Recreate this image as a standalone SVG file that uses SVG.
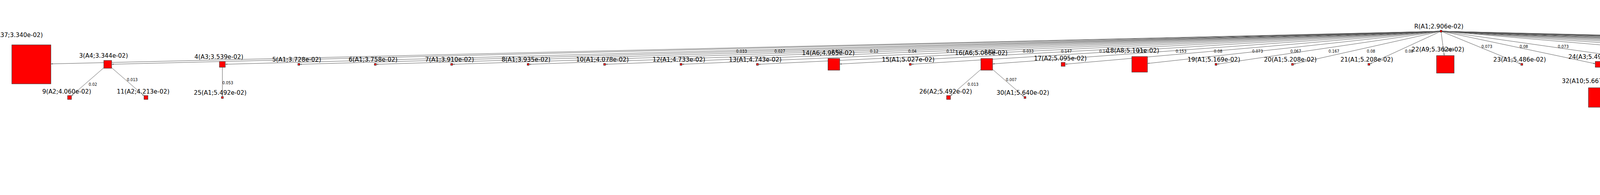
<svg xmlns="http://www.w3.org/2000/svg" width="7400" height="500" viewBox="0 0 7400 500">
<style>
.n rect{fill:#ff0000;stroke:#333;stroke-width:1}
.n text{font-family:"DejaVu Sans","Liberation Sans",sans-serif;font-size:15.3px;text-anchor:middle;fill:#000}
.e line{stroke:#555;stroke-width:1;marker-end:url(#a)}
.e text{font-family:"DejaVu Sans","Liberation Sans",sans-serif;font-size:9.7px;fill:#000}
</style>
<defs>
<marker id="a" markerUnits="userSpaceOnUse" markerWidth="6" markerHeight="4" refX="5" refY="1.75" orient="auto"><path d="M0,0 L5,1.75 L0,3.5 z" fill="#666"/></marker>
</defs>
<rect width="7400" height="500" fill="#fff"/>
<g id="edges" class="e">
<line x1="3689" y1="80" x2="130.2" y2="163.8"/>
<line x1="3689" y1="80" x2="285.8" y2="164.75"/>
<line x1="3689" y1="80" x2="576.8" y2="164.8"/>
<line x1="3689" y1="80" x2="767.5" y2="164.9"/>
<line x1="3689" y1="80" x2="963.2" y2="164.9"/>
<line x1="3689" y1="80" x2="1158.8" y2="164.9"/>
<line x1="3689" y1="80" x2="1354.5" y2="164.9"/>
<line x1="3689" y1="80" x2="1550.2" y2="164.9"/>
<line x1="3689" y1="80" x2="1745.9" y2="164.9"/>
<line x1="3689" y1="80" x2="1941.5" y2="164.9"/>
<line x1="3689" y1="80" x2="2149.7" y2="164.2"/>
<line x1="3689" y1="80" x2="2332.9" y2="164.8"/>
<line x1="3689" y1="80" x2="2541" y2="163.9"/>
<line x1="3689" y1="80" x2="2726.7" y2="164.6"/>
<line x1="3689" y1="80" x2="2937.4" y2="162.8"/>
<line x1="3689" y1="80" x2="3115.5" y2="164.6"/>
<line x1="3689" y1="80" x2="3311.2" y2="164.4"/>
<line x1="3689" y1="80" x2="3506.9" y2="163.85"/>
<line x1="3689" y1="80" x2="3697.2" y2="142.5"/>
<line x1="3689" y1="80" x2="3893.2" y2="164"/>
<line x1="3689" y1="80" x2="4083.9" y2="163.4"/>
<line x1="3689" y1="80" x2="4284.6" y2="164.6"/>
<line x1="3689" y1="80" x2="4673.4" y2="164.6"/>
<line x1="3689" y1="80" x2="4871.6" y2="164.8"/>
<line x1="3689" y1="80" x2="5019.7" y2="161.9"/>
<line x1="3689" y1="80" x2="5250.4" y2="164.2"/>
<line x1="3689" y1="80" x2="5458.6" y2="164.9"/>
<line x1="3689" y1="80" x2="5654.3" y2="164.9"/>
<line x1="3689" y1="80" x2="5849.9" y2="164.9"/>
<line x1="3689" y1="80" x2="6045.6" y2="164.9"/>
<line x1="3689" y1="80" x2="6331.6" y2="164.7"/>
<line x1="3689" y1="80" x2="6529.8" y2="164.8"/>
<line x1="3689" y1="80" x2="6727.9" y2="164.9"/>
<line x1="3689" y1="80" x2="6921.1" y2="164.8"/>
<line x1="3689" y1="80" x2="7121.8" y2="164.9"/>
<line x1="3689" y1="80" x2="7317.5" y2="164.95"/>
<line x1="265.8" y1="173.7" x2="183" y2="245.7"/>
<line x1="285.8" y1="173.7" x2="368.7" y2="245.7"/>
<line x1="569.3" y1="172.5" x2="569.3" y2="247.5"/>
<line x1="2511" y1="178" x2="2433.2" y2="245.7"/>
<line x1="2541" y1="178" x2="2621.4" y2="247.8"/>
<line x1="4284.6" y1="166.1" x2="4116.4" y2="239.1"/>
<line x1="4287.1" y1="167.5" x2="4287.1" y2="222.5"/>
<line x1="4289.6" y1="166.1" x2="4477.7" y2="247.8"/>
<line x1="4678.4" y1="170" x2="4678.4" y2="245"/>
<line x1="6048.1" y1="167.5" x2="6048.1" y2="247.5"/>
<line x1="6331.6" y1="173.7" x2="6246.3" y2="247.8"/>
<line x1="6351.6" y1="173.7" x2="6431.9" y2="243.5"/>
<line x1="4287.1" y1="277.5" x2="4287.1" y2="330"/>
<line x1="6439.4" y1="257.5" x2="6439.4" y2="332.5"/>
<line x1="6439.4" y1="337.5" x2="6439.4" y2="417.5"/>
<text x="1884.6" y="135">0.033</text>
<text x="1982.4" y="135">0.027</text>
<text x="2129.2" y="135">0.027</text>
<text x="2227" y="135">0.12</text>
<text x="2324.9" y="135">0.04</text>
<text x="2422.7" y="135">0.12</text>
<text x="2520.5" y="135">0.033</text>
<text x="2618.4" y="135">0.033</text>
<text x="2716.2" y="135">0.147</text>
<text x="2814" y="135">0.14</text>
<text x="2911.9" y="135">0.16</text>
<text x="3009.7" y="135">0.153</text>
<text x="3107.5" y="135">0.08</text>
<text x="3205.4" y="135">0.073</text>
<text x="3303.2" y="135">0.067</text>
<text x="3401" y="135">0.167</text>
<text x="3498.9" y="135">0.08</text>
<text x="3596.7" y="135">0.08</text>
<text x="3694.6" y="131">0.033</text>
<text x="3792.4" y="123">0.073</text>
<text x="3890.2" y="123">0.08</text>
<text x="3988.1" y="123">0.073</text>
<text x="4183.7" y="123">0.053</text>
<text x="4281.6" y="123">0.073</text>
<text x="4379.4" y="123">0.067</text>
<text x="4477.2" y="123">0.16</text>
<text x="4575.1" y="123">0.167</text>
<text x="4672.9" y="123">0.12</text>
<text x="4770.7" y="123">0.127</text>
<text x="4868.6" y="123">0.073</text>
<text x="5015.3" y="123">0.08</text>
<text x="5113.2" y="123">0.067</text>
<text x="5211" y="123">0.073</text>
<text x="5308.8" y="123">0.1</text>
<text x="5406.7" y="123">0.187</text>
<text x="5504.5" y="123">0.167</text>
<text x="226.9" y="220">0.02</text>
<text x="324.8" y="208">0.013</text>
<text x="569.3" y="216">0.053</text>
<text x="2477.1" y="220">0.013</text>
<text x="2575" y="208">0.007</text>
<text x="4189.3" y="220">0.007</text>
<text x="4287.1" y="216">0.007</text>
<text x="4384.9" y="208">0.02</text>
<text x="4678.4" y="216">0.007</text>
<text x="6048.1" y="216">0.007</text>
<text x="6292.7" y="220">0.013</text>
<text x="6390.5" y="208">0.013</text>
<text x="4287.1" y="301">0.02</text>
<text x="6439.4" y="301">0.013</text>
<text x="6439.4" y="386">0.013</text>
</g>
<g id="nR" class="n"><rect x="3686.5" y="77.5" width="5" height="5"/><text x="3683.5" y="73">R(A1;2.906e-02)</text></g>
<g id="n2" class="n"><rect x="30.2" y="115" width="100" height="100"/><text x="42.2" y="95">2(A37;3.340e-02)</text></g>
<g id="n3" class="n"><rect x="265.8" y="155" width="20" height="20"/><text x="265.2" y="148">3(A4;3.344e-02)</text></g>
<g id="n4" class="n"><rect x="561.8" y="157.5" width="15" height="15"/><text x="560.4" y="151.4">4(A3;3.539e-02)</text></g>
<g id="n5" class="n"><rect x="762.5" y="162.5" width="5" height="5"/><text x="759.5" y="158">5(A1;3.728e-02)</text></g>
<g id="n6" class="n"><rect x="958.2" y="162.5" width="5" height="5"/><text x="955.2" y="158">6(A1;3.758e-02)</text></g>
<g id="n7" class="n"><rect x="1153.8" y="162.5" width="5" height="5"/><text x="1150.8" y="158">7(A1;3.910e-02)</text></g>
<g id="n8" class="n"><rect x="1349.5" y="162.5" width="5" height="5"/><text x="1346.5" y="158">8(A1;3.935e-02)</text></g>
<g id="n10" class="n"><rect x="1545.2" y="162.5" width="5" height="5"/><text x="1542.2" y="158">10(A1;4.078e-02)</text></g>
<g id="n12" class="n"><rect x="1740.9" y="162.5" width="5" height="5"/><text x="1737.9" y="158">12(A1;4.733e-02)</text></g>
<g id="n13" class="n"><rect x="1936.5" y="162.5" width="5" height="5"/><text x="1933.5" y="158">13(A1;4.743e-02)</text></g>
<g id="n14" class="n"><rect x="2119.7" y="150" width="30" height="30"/><text x="2120.6" y="141.4">14(A6;4.965e-02)</text></g>
<g id="n15" class="n"><rect x="2327.9" y="162.5" width="5" height="5"/><text x="2324.9" y="158">15(A1;5.027e-02)</text></g>
<g id="n16" class="n"><rect x="2511" y="150" width="30" height="30"/><text x="2511.9" y="141.4">16(A6;5.066e-02)</text></g>
<g id="n17" class="n"><rect x="2716.7" y="160" width="10" height="10"/><text x="2714.5" y="154.7">17(A2;5.095e-02)</text></g>
<g id="n18" class="n"><rect x="2897.4" y="145" width="40" height="40"/><text x="2899.9" y="134.8">18(A8;5.101e-02)</text></g>
<g id="n19" class="n"><rect x="3110.5" y="162.5" width="5" height="5"/><text x="3107.5" y="158">19(A1;5.169e-02)</text></g>
<g id="n20" class="n"><rect x="3306.2" y="162.5" width="5" height="5"/><text x="3303.2" y="158">20(A1;5.208e-02)</text></g>
<g id="n21" class="n"><rect x="3501.9" y="162.5" width="5" height="5"/><text x="3498.9" y="158">21(A1;5.208e-02)</text></g>
<g id="n22" class="n"><rect x="3677.6" y="142.5" width="45" height="45"/><text x="3680.9" y="131.5">22(A9;5.362e-02)</text></g>
<g id="n23" class="n"><rect x="3893.2" y="162.5" width="5" height="5"/><text x="3890.2" y="158">23(A1;5.486e-02)</text></g>
<g id="n24" class="n"><rect x="4083.9" y="157.5" width="15" height="15"/><text x="4082.5" y="151.4">24(A3;5.492e-02)</text></g>
<g id="n27" class="n"><rect x="4284.6" y="162.5" width="5" height="5"/><text x="4281.6" y="158">27(A1;5.539e-02)</text></g>
<g id="n28" class="n"><rect x="4673.4" y="160" width="10" height="10"/><text x="4671.2" y="154.7">28(A2;5.613e-02)</text></g>
<g id="n29" class="n"><rect x="4871.6" y="162.5" width="5" height="5"/><text x="4868.6" y="158">29(A1;5.634e-02)</text></g>
<g id="n31" class="n"><rect x="5019.7" y="115" width="100" height="100"/><text x="5031.7" y="95">31(A29;5.657e-02)</text></g>
<g id="n33" class="n"><rect x="5250.4" y="150" width="30" height="30"/><text x="5251.3" y="141.4">33(A6;5.742e-02)</text></g>
<g id="n35" class="n"><rect x="5458.6" y="162.5" width="5" height="5"/><text x="5455.6" y="158">35(A1;6.031e-02)</text></g>
<g id="n36" class="n"><rect x="5654.3" y="162.5" width="5" height="5"/><text x="5651.3" y="158">36(A1;6.072e-02)</text></g>
<g id="n37" class="n"><rect x="5849.9" y="162.5" width="5" height="5"/><text x="5846.9" y="158">37(A1;6.078e-02)</text></g>
<g id="n38" class="n"><rect x="6045.6" y="162.5" width="5" height="5"/><text x="6042.6" y="158">38(A1;6.095e-02)</text></g>
<g id="n40" class="n"><rect x="6331.6" y="155" width="20" height="20"/><text x="6331" y="148">40(A4;6.140e-02)</text></g>
<g id="n41" class="n"><rect x="6529.8" y="157.5" width="15" height="15"/><text x="6528.4" y="151.4">41(A3;6.226e-02)</text></g>
<g id="n44" class="n"><rect x="6727.9" y="160" width="10" height="10"/><text x="6725.7" y="154.7">44(A2;6.412e-02)</text></g>
<g id="n48" class="n"><rect x="6921.1" y="157.5" width="15" height="15"/><text x="6919.7" y="151.4">48(A3;6.733e-02)</text></g>
<g id="n49" class="n"><rect x="7121.8" y="162.5" width="5" height="5"/><text x="7118.8" y="158">49(A1;6.903e-02)</text></g>
<g id="n51" class="n"><rect x="7317.5" y="162.5" width="5" height="5"/><text x="7314.5" y="158">51(A1;7.299e-02)</text></g>
<g id="n9" class="n"><rect x="173" y="245" width="10" height="10"/><text x="170.8" y="239.7">9(A2;4.060e-02)</text></g>
<g id="n11" class="n"><rect x="368.7" y="245" width="10" height="10"/><text x="366.5" y="239.7">11(A2;4.213e-02)</text></g>
<g id="n25" class="n"><rect x="566.8" y="247.5" width="5" height="5"/><text x="563.8" y="243">25(A1;5.492e-02)</text></g>
<g id="n26" class="n"><rect x="2423.2" y="245" width="10" height="10"/><text x="2421" y="239.7">26(A2;5.492e-02)</text></g>
<g id="n30" class="n"><rect x="2621.4" y="247.5" width="5" height="5"/><text x="2618.4" y="243">30(A1;5.640e-02)</text></g>
<g id="n32" class="n"><rect x="4066.4" y="225" width="50" height="50"/><text x="4070.5" y="213.1">32(A10;5.667e-02)</text></g>
<g id="n34" class="n"><rect x="4259.6" y="222.5" width="55" height="55"/><text x="4264.5" y="209.8">34(A11;5.983e-02)</text></g>
<g id="n45" class="n"><rect x="4477.7" y="245" width="10" height="10"/><text x="4475.5" y="239.7">45(A2;6.415e-02)</text></g>
<g id="n39" class="n"><rect x="4673.4" y="245" width="10" height="10"/><text x="4671.2" y="239.7">39(A2;6.119e-02)</text></g>
<g id="n42" class="n"><rect x="6045.6" y="247.5" width="5" height="5"/><text x="6042.6" y="243">42(A1;6.243e-02)</text></g>
<g id="n43" class="n"><rect x="6241.3" y="247.5" width="5" height="5"/><text x="6238.3" y="243">43(A1;6.374e-02)</text></g>
<g id="n46" class="n"><rect x="6431.9" y="242.5" width="15" height="15"/><text x="6430.5" y="236.4">46(A3;6.496e-02)</text></g>
<g id="n47" class="n"><rect x="4282.1" y="330" width="10" height="10"/><text x="4279.9" y="324.7">47(A2;6.557e-02)</text></g>
<g id="n50" class="n"><rect x="6436.9" y="332.5" width="5" height="5"/><text x="6433.9" y="328">50(A1;7.254e-02)</text></g>
<g id="n52" class="n"><rect x="6436.9" y="417.5" width="5" height="5"/><text x="6433.9" y="413">52(A1;7.835e-02)</text></g>
</svg>
